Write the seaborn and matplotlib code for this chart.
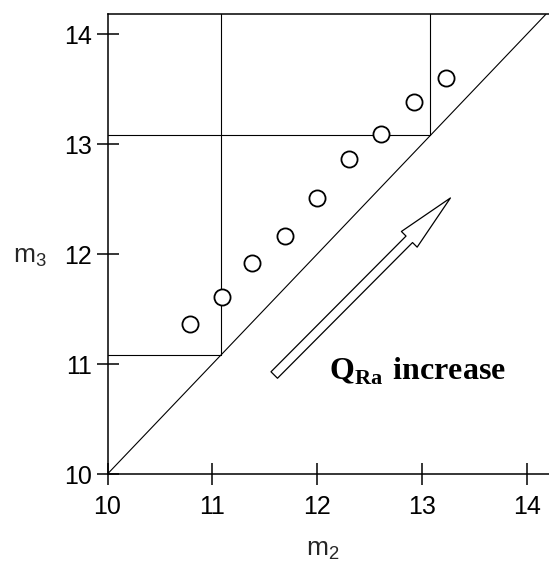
import matplotlib
matplotlib.use("Agg")
import matplotlib.pyplot as plt
import seaborn as sns
import pandas as pd

# data
m2_vals = [10.79, 11.09, 11.38, 11.69, 12.0, 12.3, 12.61, 12.92, 13.23]
m3_vals = [11.36, 11.61, 11.92, 12.16, 12.51, 12.86, 13.09, 13.38, 13.6]
box_low = 11.08
box_high = 13.08
x_ticks = [10, 11, 12, 13, 14]
y_ticks = [10, 11, 12, 13, 14]
arrow_tail = (11.59, 10.9)
arrow_tip = (13.27, 12.51)

sns.set_theme(style="white")
plt.rcParams['font.family'] = ['Liberation Sans', 'DejaVu Sans']
plt.rcParams['mathtext.fontset'] = 'custom'
plt.rcParams['mathtext.rm'] = 'Liberation Serif'
plt.rcParams['mathtext.bf'] = 'Liberation Serif:bold'
plt.rcParams['mathtext.sf'] = 'Liberation Sans'

W, H = 549, 563
fig = plt.figure(figsize=(W/100, H/100), dpi=100)
L, B, T = 107.5, 474, 14.3
ax = fig.add_axes([L/W, 1-B/H, 1-L/W, (B-T)/H])

df = pd.DataFrame({"m2": m2_vals, "m3": m3_vals})

xmin, xmax = 10, 14.21
ymin, ymax = 10, 14.18

# diagonal
ax.plot([xmin, ymax], [xmin, ymax], color='black', lw=0.8)
# boxes
for b in (box_low, box_high):
    ax.plot([b, b], [b, ymax], color='black', lw=0.8)
    ax.plot([xmin, b], [b, b], color='black', lw=0.8)

sns.scatterplot(data=df, x="m2", y="m3", ax=ax, s=135, marker='o',
                facecolor='white', edgecolor='black', linewidth=1.3, zorder=5)

ax.annotate('', xy=arrow_tip, xytext=arrow_tail,
            arrowprops=dict(arrowstyle='simple,head_length=2.1,head_width=0.8,tail_width=0.33',
                            mutation_scale=20, fc='white', ec='black', lw=0.9,
                            shrinkA=0, shrinkB=0))

ax.text(12.11, 10.86, r'$\mathbf{Q}_{\mathbf{Ra}}\ \mathbf{increase}$', fontsize=23,
        ha='left', va='baseline', color='black')

ax.set_xlim(xmin, xmax)
ax.set_ylim(ymin, ymax)
ax.set_xticks(x_ticks)
ax.set_yticks(y_ticks)
ax.tick_params(axis='both', direction='inout', length=16.5, width=1.1, color='black',
               labelsize=18, labelcolor='black', bottom=True, left=True)
ax.tick_params(axis='x', pad=7)
ax.tick_params(axis='y', pad=3)

for s in ('left', 'bottom', 'top'):
    ax.spines[s].set_visible(True)
    ax.spines[s].set_color('black')
    ax.spines[s].set_linewidth(1.1)
ax.spines['right'].set_visible(False)

ax.set_xlabel('')
ax.set_ylabel('')
fig.text(30/W, 1-257/H, r'$\mathsf{m_3}$', fontsize=19, ha='center', va='center')
fig.text(323/W, 1-550/H, r'$\mathsf{m_2}$', fontsize=19, ha='center', va='center')

fig.savefig('out.png', dpi=100)
